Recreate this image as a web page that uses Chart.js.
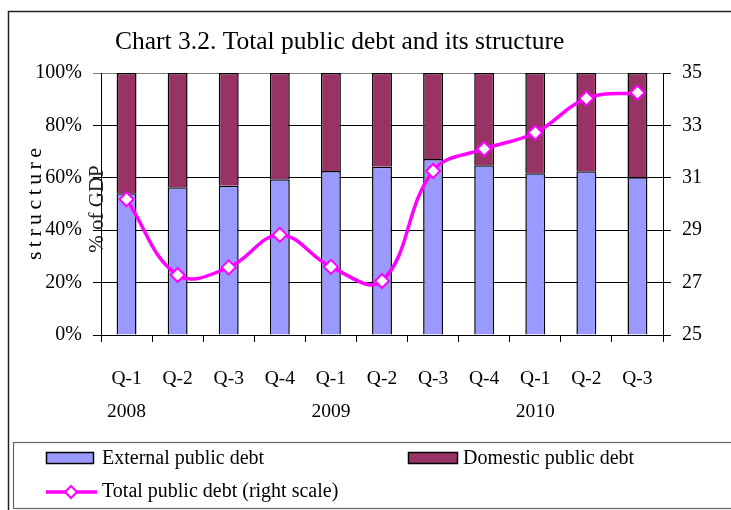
<!DOCTYPE html>
<html>
<head>
<meta charset="utf-8">
<script src="https://cdn.jsdelivr.net/npm/chart.js@4.4.1/dist/chart.umd.min.js"></script>
<style>
  html, body { margin: 0; padding: 0; background: #fff; }
  #wrap { position: relative; width: 731px; height: 510px; }
</style>
</head>
<body>
<div id="wrap"><canvas id="chart" width="731" height="510"></canvas></div>
<script>
const quarters = ['Q-1', 'Q-2', 'Q-3', 'Q-4', 'Q-1', 'Q-2', 'Q-3', 'Q-4', 'Q-1', 'Q-2', 'Q-3'];
const years = ['2008', '', '', '', '2009', '', '', '', '2010', '', ''];
const externalDebt = [54.1, 56.4, 57.0, 59.4, 62.6, 64.2, 67.2, 64.8, 61.7, 62.5, 60.2];
const domesticDebt = [45.9, 43.6, 43.0, 40.6, 37.4, 35.8, 32.8, 35.2, 38.3, 37.5, 39.8];
const totalDebt = [30.18, 27.29, 27.58, 28.82, 27.6, 27.06, 31.26, 32.1, 32.72, 34.03, 34.25];

const FONT = "'Liberation Serif', 'DejaVu Serif', serif";
const EXT_COLOR = '#9999ff';
const DOM_COLOR = '#993366';
const LINE_COLOR = '#ff00ff';

// frame, title, right-scale caption and legend
const decorPlugin = {
    id: 'decor',
    beforeDraw(chart) {
        const ctx = chart.ctx;
        ctx.save();
        ctx.fillStyle = '#fff';
        ctx.fillRect(0, 0, chart.width, chart.height);
        ctx.restore();
    },
    afterDraw(chart) {
        const ctx = chart.ctx;
        ctx.save();
        // outer frame
        ctx.strokeStyle = '#222';
        ctx.lineWidth = 1.5;
        ctx.beginPath();
        ctx.moveTo(8.5, chart.height + 2);
        ctx.lineTo(8.5, 11.5);
        ctx.lineTo(chart.width + 2, 11.5);
        ctx.stroke();

        // title
        ctx.fillStyle = '#000';
        ctx.font = '25.5px ' + FONT;
        ctx.textBaseline = 'alphabetic';
        ctx.textAlign = 'left';
        ctx.fillText('Chart 3.2. Total public debt and its structure', 115, 49);

        // right scale caption placed over the left axis
        ctx.save();
        ctx.translate(102, 209);
        ctx.rotate(-Math.PI / 2);
        ctx.font = '21px ' + FONT;
        ctx.textAlign = 'center';
        ctx.textBaseline = 'middle';
        ctx.fillStyle = '#222';
        ctx.fillText('% of GDP', 0, -5);
        ctx.restore();

        // legend box
        ctx.strokeStyle = '#666';
        ctx.lineWidth = 1.2;
        ctx.strokeRect(13.5, 442.5, chart.width, 66);

        const ds = chart.data.datasets;
        ctx.font = '20px ' + FONT;
        ctx.textAlign = 'left';
        ctx.textBaseline = 'middle';
        ctx.fillStyle = '#000';

        const swatch = (x, y, w, h, fill) => {
            ctx.fillStyle = fill;
            ctx.fillRect(x, y, w, h);
            ctx.strokeStyle = '#000';
            ctx.lineWidth = 1.5;
            ctx.strokeRect(x, y, w, h);
        };
        swatch(46.5, 452.5, 47, 11, EXT_COLOR);
        ctx.fillStyle = '#000';
        ctx.fillText(ds[1].label, 102, 459);
        swatch(408.5, 452.5, 49, 11, DOM_COLOR);
        ctx.fillStyle = '#000';
        ctx.fillText(ds[2].label, 463, 459);

        ctx.strokeStyle = LINE_COLOR;
        ctx.lineWidth = 3.5;
        ctx.beginPath();
        ctx.moveTo(46, 492);
        ctx.lineTo(97, 492);
        ctx.stroke();
        ctx.beginPath();
        ctx.moveTo(71, 486);
        ctx.lineTo(77, 492);
        ctx.lineTo(71, 498);
        ctx.lineTo(65, 492);
        ctx.closePath();
        ctx.fillStyle = '#fff';
        ctx.fill();
        ctx.lineWidth = 2;
        ctx.stroke();
        ctx.fillStyle = '#000';
        ctx.fillText(ds[0].label, 102, 492);
        ctx.restore();
    }
};

new Chart(document.getElementById('chart'), {
    type: 'bar',
    data: {
        labels: quarters.map((q, i) => [q, years[i]]),
        datasets: [
            {
                type: 'line',
                label: 'Total public debt (right scale)',
                data: totalDebt,
                yAxisID: 'y1',
                borderColor: LINE_COLOR,
                borderWidth: 3.5,
                tension: 0.4,
                pointStyle: 'rectRot',
                pointRadius: 7,
                pointBackgroundColor: '#fff',
                pointBorderColor: LINE_COLOR,
                pointBorderWidth: 2,
                order: 0
            },
            {
                label: 'External public debt',
                data: externalDebt,
                backgroundColor: EXT_COLOR,
                borderColor: '#000',
                borderWidth: 1.5,
                stack: 's',
                yAxisID: 'y',
                order: 1
            },
            {
                label: 'Domestic public debt',
                data: domesticDebt,
                backgroundColor: DOM_COLOR,
                borderColor: '#000',
                borderWidth: 1.5,
                stack: 's',
                yAxisID: 'y',
                order: 1
            }
        ]
    },
    options: {
        responsive: false,
        animation: false,
        layout: { padding: { top: 73, left: 0, right: 0, bottom: 0 } },
        datasets: { bar: { barPercentage: 0.39, categoryPercentage: 1 } },
        plugins: {
            legend: { display: false },
            tooltip: { enabled: false }
        },
        scales: {
            x: {
                stacked: true,
                afterFit: (s) => { s.height = 175; },
                grid: { drawOnChartArea: false, tickLength: 7, color: '#000', offset: true },
                border: { color: '#000', width: 1 },
                ticks: {
                    color: '#000', maxRotation: 0, autoSkip: false, padding: 20,
                    font: { family: FONT, size: 19.5, lineHeight: 1.72 }
                }
            },
            y: {
                stacked: true,
                position: 'left',
                min: 0, max: 100,
                afterFit: (s) => { s.width = 101; },
                grid: {
                    color: (c) => (c.tick && c.tick.value === 100 ? '#808080' : '#000'),
                    tickLength: 8
                },
                border: { color: '#000', width: 1 },
                ticks: {
                    stepSize: 20, color: '#000', padding: 11,
                    callback: (v) => v + '%',
                    font: { family: FONT, size: 20 }
                },
                title: {
                    display: true, text: 's\u2009t\u2009r\u2009u\u2009c\u2009t\u2009u\u2009r\u2009e', color: '#000',
                    font: { family: FONT, size: 22 }, padding: { top: 22, bottom: 0 }
                }
            },
            y1: {
                position: 'right',
                min: 25, max: 35,
                afterFit: (s) => { s.width = 68; },
                grid: { drawOnChartArea: false, tickLength: 8, color: '#000' },
                border: { color: '#000', width: 1 },
                ticks: {
                    stepSize: 2, color: '#000', padding: 11,
                    font: { family: FONT, size: 20 }
                }
            }
        }
    },
    plugins: [decorPlugin]
});
</script>
</body>
</html>
